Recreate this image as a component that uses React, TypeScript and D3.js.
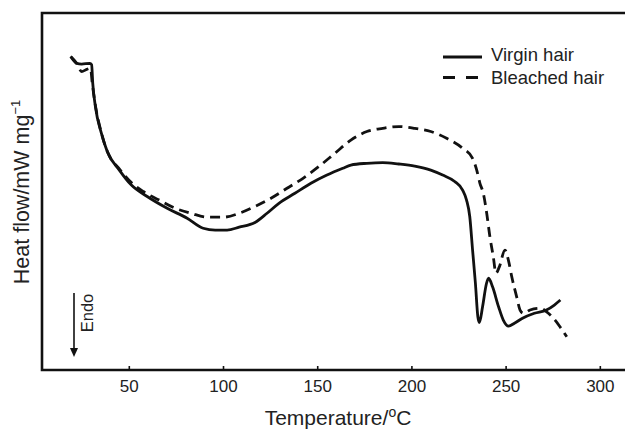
import React, { useEffect } from 'react';
import * as d3 from 'd3';

// Temperature (°C) readings and heat flow (arbitrary units, baseline = 0)
const virginT = [18.9, 22.1, 24.7, 29.1, 30.0, 30.6, 32.0, 35.2, 38.3, 44.7, 51.1, 59.5, 70.1, 80.7, 89.2, 95.6, 101.9, 108.3, 116.7, 123.1, 129.4, 137.9, 146.4, 154.9, 163.3, 167.6, 176.1, 184.5, 193.0, 201.5, 210.0, 216.3, 222.7, 226.9, 229.0, 230.7, 232.2, 233.7, 235.0, 235.8, 237.5, 239.6, 240.7, 242.8, 246.0, 248.5, 251.3, 254.4, 258.7, 265.0, 271.4, 275.6, 278.8];
const virginH = [8.78, 8.59, 8.57, 8.59, 8.55, 8.03, 7.38, 6.63, 6.12, 5.60, 5.18, 4.86, 4.53, 4.25, 3.97, 3.92, 3.92, 4.00, 4.13, 4.39, 4.67, 4.95, 5.23, 5.46, 5.65, 5.74, 5.79, 5.81, 5.77, 5.71, 5.60, 5.46, 5.28, 5.04, 4.76, 4.30, 3.36, 2.43, 1.49, 1.33, 1.77, 2.43, 2.57, 2.33, 1.77, 1.40, 1.23, 1.31, 1.45, 1.59, 1.68, 1.82, 1.96];

const bleachedT = [18.9, 22.1, 24.7, 27.4, 29.4, 30.4, 32.2, 35.4, 38.5, 44.9, 51.1, 57.4, 65.9, 74.4, 82.8, 91.3, 99.8, 108.3, 116.7, 125.2, 133.7, 142.2, 150.6, 159.1, 167.6, 176.1, 184.5, 193.0, 201.5, 210.0, 218.4, 226.9, 232.2, 234.4, 236.1, 237.9, 239.7, 241.4, 243.2, 244.6, 246.4, 249.4, 251.2, 253.0, 255.6, 257.4, 259.1, 262.7, 268.0, 271.5, 275.1, 278.6, 282.2];
const bleachedH = [8.78, 8.59, 8.36, 8.42, 8.45, 8.00, 7.35, 6.60, 6.10, 5.62, 5.25, 5.00, 4.76, 4.53, 4.39, 4.28, 4.28, 4.39, 4.58, 4.81, 5.09, 5.37, 5.70, 6.07, 6.44, 6.68, 6.77, 6.82, 6.77, 6.68, 6.49, 6.21, 5.93, 5.60, 5.23, 4.95, 4.39, 3.73, 3.17, 2.71, 2.89, 3.36, 3.08, 2.61, 2.05, 1.68, 1.59, 1.68, 1.73, 1.63, 1.45, 1.21, 0.93];

const xTicks = [50, 100, 150, 200, 250, 300];
const seriesNames = ['Virgin hair', 'Bleached hair'];

const W = 625;
const H = 431;
const left = 42;
const top = 13;
const bottom = 370;

export default function App() {
  useEffect(() => {
    document.body.style.margin = '0';
  }, []);

  const x = d3.scaleLinear().domain([3.66, 313.1]).range([left, W]);
  const y = d3.scaleLinear().domain([0, 10]).range([bottom, top]);

  const line = d3
    .line<[number, number]>()
    .x((d) => x(d[0]))
    .y((d) => y(d[1]))
    .curve(d3.curveMonotoneX);

  const virgin = virginT.map((t, i) => [t, virginH[i]] as [number, number]);
  const bleached = bleachedT.map((t, i) => [t, bleachedH[i]] as [number, number]);

  const font = "'Liberation Sans', Arial, sans-serif";

  return (
    <svg width={W} height={H} style={{ display: 'block', background: '#fff' }} fontFamily={font}>
      <path d={line(virgin) ?? ''} fill="none" stroke="#111" strokeWidth={2.8} strokeLinejoin="round" />
      <path d={line(bleached) ?? ''} fill="none" stroke="#111" strokeWidth={2.8} strokeDasharray="10,6" />

      {/* frame */}
      <path d={`M${W + 5},${top} H${left} V${bottom} H${W + 5}`} fill="none" stroke="#111" strokeWidth={2.6} />

      {xTicks.map((t) => (
        <g key={t}>
          <line x1={x(t)} x2={x(t)} y1={bottom} y2={bottom - 4} stroke="#111" strokeWidth={1.6} />
          <text x={x(t)} y={392} textAnchor="middle" fontSize={17} fill="#222">
            {t}
          </text>
        </g>
      ))}

      <text x={338} y={425} textAnchor="middle" fontSize={21} fill="#222">
        Temperature/<tspan fontSize={14} dy={-8}>o</tspan>
        <tspan dy={8}>C</tspan>
      </text>

      <text transform={`translate(29,192) rotate(-90)`} textAnchor="middle" fontSize={21.5} fill="#222">
        Heat flow/mW mg<tspan fontSize={13} dy={-9}>−1</tspan>
      </text>

      {/* legend */}
      <line x1={443} x2={482} y1={57} y2={57} stroke="#111" strokeWidth={3} />
      <text x={491} y={61} fontSize={18.5} fill="#222">
        {seriesNames[0]}
      </text>
      <line x1={443} x2={482} y1={77.5} y2={77.5} stroke="#111" strokeWidth={3} strokeDasharray="12,11" />
      <text x={491} y={84} fontSize={18.5} fill="#222">
        {seriesNames[1]}
      </text>

      {/* endo arrow */}
      <line x1={74} x2={74} y1={293} y2={350} stroke="#111" strokeWidth={1.6} />
      <path d="M70,348 L78,348 L74,357 Z" fill="#111" />
      <text transform={`translate(93,313) rotate(-90)`} textAnchor="middle" fontSize={16.5} fill="#222">
        Endo
      </text>
    </svg>
  );
}
